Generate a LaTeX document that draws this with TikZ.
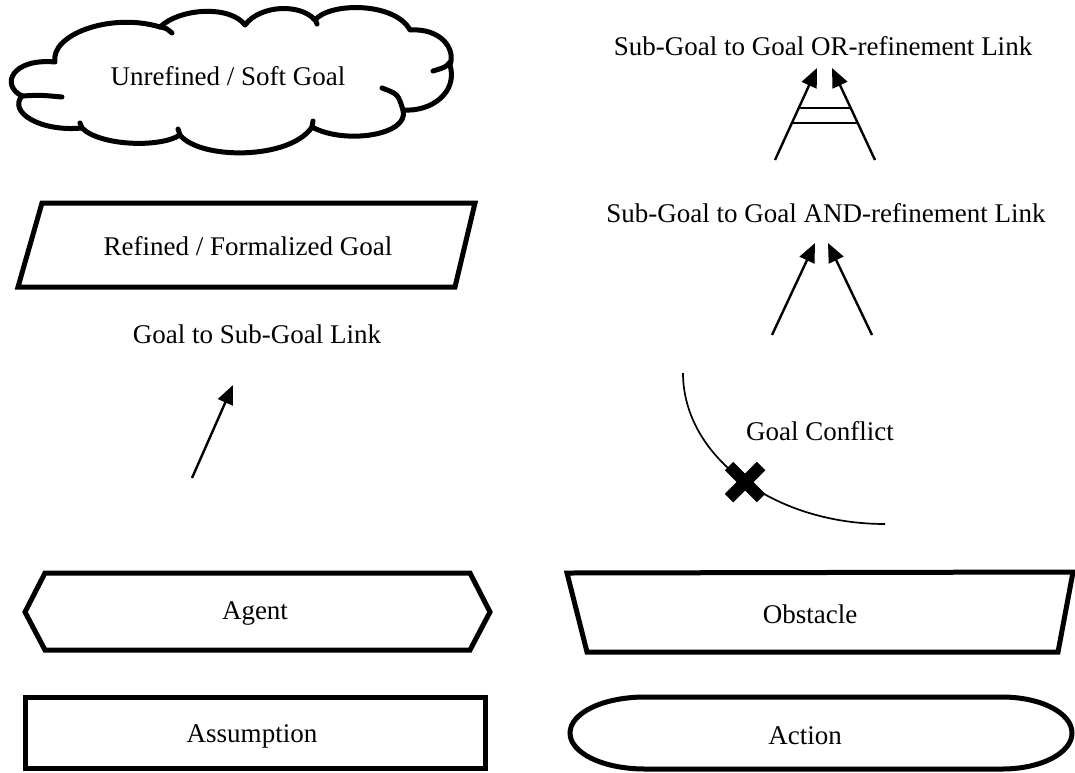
\documentclass[tikz,border=0pt]{standalone}
\usepackage{fontspec}
\setmainfont{Liberation Serif}
\usetikzlibrary{arrows.meta,calc}
\begin{document}
\begin{tikzpicture}[x=1pt,y=-1pt,
  outline/.style={line width=5pt},
  hook/.style={line width=5pt, line cap=round},
  link/.style={line width=2.4pt, -{Triangle[length=19pt,width=16pt]}},
  bar/.style={line width=1.6pt},
  thinline/.style={line width=1.7pt},
  lbl/.style={font=\fontsize{27}{31}\selectfont, inner sep=0pt}]
\useasboundingbox (0,0) rectangle (1075,772);

% ---- cloud: unrefined / soft goal
\draw[outline, line join=round] (22,96) .. controls (0,85) and (12,58) .. (55,62)
 .. controls (50,35) and (110,12) .. (160,27)
 .. controls (180,8) and (230,5) .. (245,25)
 .. controls (260,5) and (300,3) .. (315,20)
 .. controls (330,2) and (395,2) .. (410,30)
 .. controls (440,28) and (456,48) .. (450,65)
 .. controls (458,92) and (432,112) .. (403,110)
 .. controls (410,135) and (345,145) .. (312,127)
 .. controls (290,160) and (200,160) .. (180,135)
 .. controls (160,148) and (100,146) .. (82,128)
 .. controls (40,132) and (8,112) .. (22,96) -- cycle;
% inner strokes where the bumps meet
\draw[hook] (160,27) .. controls (166,28) .. (172,33);
\draw[hook] (313,18) .. controls (316,21) .. (317,24);
\draw[hook] (450,62) .. controls (446,67) .. (433,71);
\draw[hook] (382,88) .. controls (398,94) .. (403,110);
\draw[hook] (312,127) -- (313,121);
\draw[hook] (180,135) -- (178,129);
\draw[hook] (82,128) -- (80,123);
\draw[hook] (22,96) .. controls (40,95) .. (62,97);
\node[lbl] (soft) at (228,76) {Unrefined / Soft Goal};

% ---- parallelogram: refined goal
\draw[outline] (42,203) -- (475,203) -- (455,287) -- (18,287) -- cycle;
\node[lbl] (refined) at (248,246) {Refined / Formalized Goal};

% ---- hexagon: agent
\draw[outline] (45,573) -- (470,573) -- (490,612) -- (470,650) -- (45,650) -- (25,612) -- cycle;
\node[lbl] (agent) at (255,613) {Agent};

% ---- rectangle: assumption
\draw[outline] (25,697) rectangle (485,768);
\node[lbl] (assumption) at (252,736) {Assumption};

% ---- trapezoid: obstacle
\draw[outline] (567,573) -- (1073,572) -- (1058,652) -- (587,652) -- cycle;
\node[lbl] (obstacle) at (810,614) {Obstacle};

% ---- stadium: action
\draw[outline] (645,697) -- (1002,697)
  .. controls (1041,697) and (1072,713) .. (1072,733)
  .. controls (1072,753) and (1041,769) .. (1002,769)
  -- (645,769)
  .. controls (603,769) and (570,753) .. (570,733)
  .. controls (570,713) and (603,697) .. (645,697) -- cycle;
\node[lbl] (action) at (805,736) {Action};

% ---- OR-refinement link
\node[lbl] (orlbl) at (823,46) {Sub-Goal to Goal OR-refinement Link};
\coordinate (or1s) at (775,160);
\coordinate (or1e) at (817,68);
\coordinate (or2s) at (875,160);
\coordinate (or2e) at (832,68);
\draw[link] (or1s) -- (or1e);
\draw[link] (or2s) -- (or2e);
\draw[bar] ($(or1s)!0.565!(or1e)$) -- ($(or2s)!0.565!(or2e)$);
\draw[bar] ($(or1s)!0.402!(or1e)$) -- ($(or2s)!0.402!(or2e)$);

% ---- AND-refinement link
\node[lbl] (andlbl) at (826,213) {Sub-Goal to Goal AND-refinement Link};
\coordinate (and1s) at (772,335);
\coordinate (and1e) at (815,243);
\coordinate (and2s) at (872,335);
\coordinate (and2e) at (828,243);
\draw[link] (and1s) -- (and1e);
\draw[link] (and2s) -- (and2e);

% ---- goal to sub-goal link
\node[lbl] (sublbl) at (257,334) {Goal to Sub-Goal Link};
\coordinate (gs) at (192,478);
\coordinate (ge) at (233,385);
\draw[link] (gs) -- (ge);

% ---- goal conflict
\node[lbl] (conflbl) at (820,431) {Goal Conflict};
\coordinate (cs) at (683,373);
\coordinate (ce) at (885,524);
\draw[thinline] (cs) .. controls (683,456) and (773,524) .. (ce);
\coordinate (cx) at (745,482);
\draw[line width=12pt] ($(cx)+(-16,-16)$) -- ($(cx)+(16,16)$);
\draw[line width=12pt] ($(cx)+(-16,16)$) -- ($(cx)+(16,-16)$);
\end{tikzpicture}
\end{document}
